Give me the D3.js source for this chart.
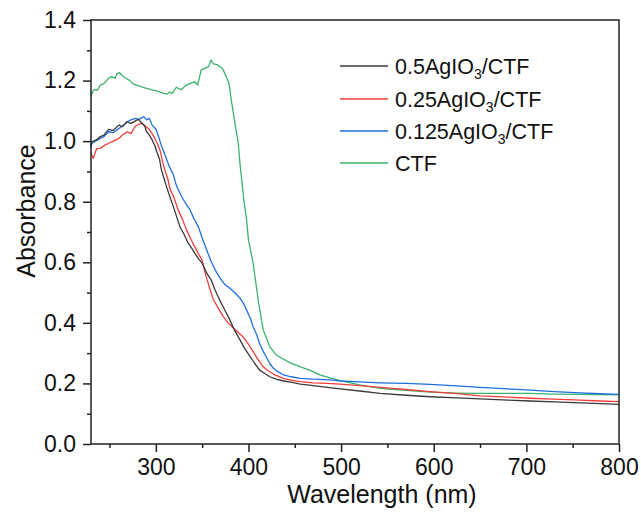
<!DOCTYPE html>
<html>
<head>
<meta charset="utf-8">
<script src="https://cdn.jsdelivr.net/npm/d3@7"></script>
<style>
  body { margin: 0; background: #fff; }
  text { font-family: "Liberation Sans", Arial, sans-serif; fill: #111; }
</style>
</head>
<body>
<div id="chart"></div>
<script>
// data (wavelength in nm, absorbance)
const seriesNames = ["0.5AgIO3/CTF", "0.25AgIO3/CTF", "0.125AgIO3/CTF", "CTF"];

const wl05 = [230, 231, 236, 240, 244, 249, 254, 260, 264, 269, 273, 278, 281, 285, 288, 290, 293, 296, 299, 301, 304, 306, 309, 312, 315, 319, 322, 326, 330, 335, 339, 342, 346, 350, 355, 360, 364, 369, 374, 380, 385, 391, 396, 402, 407, 412, 418, 423, 430, 438, 446, 456, 470, 485, 499, 520, 542, 570, 596, 625, 650, 680, 704, 730, 758, 780, 800];
const abs05 = [0.98, 0.998, 1.005, 1.015, 1.02, 1.039, 1.035, 1.053, 1.048, 1.064, 1.058, 1.067, 1.072, 1.059, 1.05, 1.031, 1.02, 1.004, 0.985, 0.965, 0.94, 0.905, 0.875, 0.845, 0.818, 0.783, 0.755, 0.717, 0.695, 0.663, 0.645, 0.63, 0.612, 0.597, 0.564, 0.54, 0.508, 0.475, 0.445, 0.409, 0.375, 0.343, 0.315, 0.288, 0.265, 0.244, 0.232, 0.222, 0.214, 0.208, 0.204, 0.198, 0.193, 0.187, 0.182, 0.175, 0.167, 0.161, 0.156, 0.152, 0.149, 0.145, 0.142, 0.139, 0.136, 0.133, 0.131];

const wl025 = [230, 232.5, 236, 240, 244, 249, 254, 260, 264, 269, 273, 278, 281, 285, 288, 292, 296, 299, 302, 305, 307, 310, 313, 315, 320, 324, 329, 333, 338, 342, 346, 350, 352, 355, 358, 362, 367, 373, 378, 384, 389, 394, 400, 405, 410, 416, 421, 427, 432, 438, 446, 456, 470, 485, 499, 520, 542, 570, 596, 625, 650, 680, 704, 730, 758, 780, 800];
const abs025 = [0.96, 0.943, 0.975, 0.976, 0.985, 0.993, 1.0, 1.009, 1.02, 1.031, 1.025, 1.05, 1.055, 1.059, 1.052, 1.042, 1.025, 1.009, 0.99, 0.965, 0.935, 0.902, 0.875, 0.845, 0.81, 0.773, 0.74, 0.707, 0.675, 0.651, 0.628, 0.607, 0.58, 0.546, 0.515, 0.478, 0.45, 0.42, 0.4, 0.382, 0.368, 0.354, 0.33, 0.305, 0.28, 0.255, 0.242, 0.231, 0.224, 0.216, 0.211, 0.206, 0.202, 0.2, 0.198, 0.193, 0.187, 0.18, 0.173, 0.166, 0.159, 0.155, 0.151, 0.148, 0.145, 0.142, 0.14];

const wl0125 = [230, 231, 235, 240, 244, 249, 254, 260, 264, 269, 273, 278, 282, 287, 290, 293, 296, 300, 303, 306, 310, 314, 319, 322, 326, 331, 337, 341, 346, 350, 355, 360, 366, 371, 375, 380, 385, 391, 395, 398, 402, 405, 409, 412, 416, 420, 423, 427, 432, 438, 446, 456, 470, 492, 499, 520, 542, 570, 596, 625, 650, 680, 704, 730, 758, 780, 800];
const abs0125 = [0.985, 0.993, 1.0, 1.009, 1.015, 1.031, 1.028, 1.042, 1.05, 1.064, 1.07, 1.075, 1.072, 1.081, 1.07, 1.075, 1.053, 1.04, 1.015, 0.985, 0.954, 0.92, 0.888, 0.855, 0.828, 0.8, 0.773, 0.745, 0.717, 0.68, 0.64, 0.6, 0.564, 0.54, 0.525, 0.514, 0.5, 0.481, 0.462, 0.442, 0.415, 0.387, 0.36, 0.332, 0.305, 0.283, 0.265, 0.25, 0.238, 0.228, 0.222, 0.217, 0.214, 0.211, 0.208, 0.205, 0.202, 0.2, 0.197, 0.192, 0.187, 0.182, 0.178, 0.173, 0.169, 0.166, 0.164];

const wlCtf = [230, 233, 237, 240, 244, 248, 252, 256, 258, 261, 264, 268, 272, 275, 279, 284, 290, 295, 301, 306, 312, 315, 318, 322, 327, 333, 337, 342, 345, 349, 353, 357, 359.5, 362, 366, 372, 376, 379, 382, 386, 389, 391, 395, 398, 400, 405, 411, 416, 423, 430, 438, 445, 456, 466, 477, 488, 499, 520, 542, 570, 596, 625, 650, 680, 704, 730, 758, 780, 800];
const absCtf = [1.15, 1.17, 1.168, 1.185, 1.19, 1.205, 1.213, 1.208, 1.222, 1.226, 1.215, 1.207, 1.2, 1.19, 1.185, 1.18, 1.174, 1.17, 1.166, 1.16, 1.155, 1.162, 1.158, 1.178, 1.17, 1.185, 1.19, 1.196, 1.185, 1.235, 1.24, 1.246, 1.268, 1.255, 1.253, 1.24, 1.213, 1.19, 1.125, 1.048, 0.993, 0.92, 0.806, 0.74, 0.673, 0.597, 0.465, 0.376, 0.321, 0.294, 0.28, 0.268, 0.255, 0.244, 0.228, 0.218, 0.209, 0.195, 0.184, 0.177, 0.171, 0.168, 0.167, 0.167, 0.167, 0.165, 0.164, 0.163, 0.162];

const seriesWl = [wl05, wl025, wl0125, wlCtf];
const seriesAbs = [abs05, abs025, abs0125, absCtf];
const seriesColors = ["#3a3a3a", "#f23c3c", "#1f6fe0", "#3ab36c"];

const xMajor = [300, 400, 500, 600, 700, 800];
const xMinor = [250, 350, 450, 550, 650, 750];
const yMajor = [0, 0.2, 0.4, 0.6, 0.8, 1.0, 1.2, 1.4];
const yMinor = [0.1, 0.3, 0.5, 0.7, 0.9, 1.1, 1.3];

const width = 641;
const height = 515;
const plotLeft = 91, plotRight = 619, plotTop = 20, plotBottom = 444;

const svg = d3.select("#chart")
    .append("svg")
    .attr("width", width)
    .attr("height", height);

const x = d3.scaleLinear().domain([230, 800]).range([plotLeft, plotRight]);
const y = d3.scaleLinear().domain([0, 1.4]).range([plotBottom, plotTop]);

// curves
const line = d3.line()
    .x(d => x(d[0]))
    .y(d => y(d[1]));

// draw order: CTF first so the others sit on top like the original
[3, 2, 1, 0].forEach(i => {
    const pts = seriesWl[i].map((w, k) => [w, seriesAbs[i][k]]);
    svg.append("path")
        .datum(pts)
        .attr("d", line)
        .attr("fill", "none")
        .attr("stroke", seriesColors[i])
        .attr("stroke-width", 1.3)
        .attr("stroke-linejoin", "round");
});

// axes
const xAxis = svg.append("g")
    .attr("transform", `translate(0,${plotBottom})`)
    .call(d3.axisBottom(x).tickValues(xMajor).tickSize(8).tickSizeOuter(0).tickPadding(6));
const xMinorAxis = svg.append("g")
    .attr("transform", `translate(0,${plotBottom})`)
    .call(d3.axisBottom(x).tickValues(xMinor).tickSize(4).tickSizeOuter(0).tickFormat(""));
const yAxis = svg.append("g")
    .attr("transform", `translate(${plotLeft},0)`)
    .call(d3.axisLeft(y).tickValues(yMajor).tickSize(8).tickSizeOuter(0).tickPadding(7).tickFormat(d3.format(".1f")));
const yMinorAxis = svg.append("g")
    .attr("transform", `translate(${plotLeft},0)`)
    .call(d3.axisLeft(y).tickValues(yMinor).tickSize(4).tickSizeOuter(0).tickFormat(""));

[xAxis, xMinorAxis, yAxis, yMinorAxis].forEach(g => {
    g.select(".domain").remove();
    g.selectAll("line").attr("stroke", "#222").attr("stroke-width", 1.5);
    g.selectAll("text")
        .style("font-family", '"Liberation Sans", Arial, sans-serif')
        .style("font-size", "23px")
        .attr("fill", "#111");
});
xAxis.selectAll("text").attr("dy", "0.75em");

// frame
svg.append("rect")
    .attr("x", plotLeft)
    .attr("y", plotTop)
    .attr("width", plotRight - plotLeft)
    .attr("height", plotBottom - plotTop)
    .attr("fill", "none")
    .attr("stroke", "#222")
    .attr("stroke-width", 1.5);

// axis titles
svg.append("text")
    .attr("x", 382)
    .attr("y", 503)
    .attr("text-anchor", "middle")
    .style("font-size", "25px")
    .text("Wavelength (nm)");

svg.append("text")
    .attr("transform", "translate(35,211) rotate(-90)")
    .attr("text-anchor", "middle")
    .style("font-size", "25px")
    .text("Absorbance");

// legend
const legendY = [66, 99, 131, 163];
seriesNames.forEach((name, i) => {
    const ly = legendY[i];
    svg.append("line")
        .attr("x1", 340).attr("x2", 388)
        .attr("y1", ly).attr("y2", ly)
        .attr("stroke", seriesColors[i])
        .attr("stroke-width", 1.3);
    const t = svg.append("text")
        .attr("x", 395)
        .attr("y", ly + 8)
        .style("font-size", "21.5px");
    const parts = name.split("IO3");
    if (parts.length > 1) {
        t.append("tspan").text(parts[0] + "IO");
        t.append("tspan").attr("dy", 5).style("font-size", "14px").text("3");
        t.append("tspan").attr("dy", -5).text(parts[1]);
    } else {
        t.text(name);
    }
});
</script>
</body>
</html>
